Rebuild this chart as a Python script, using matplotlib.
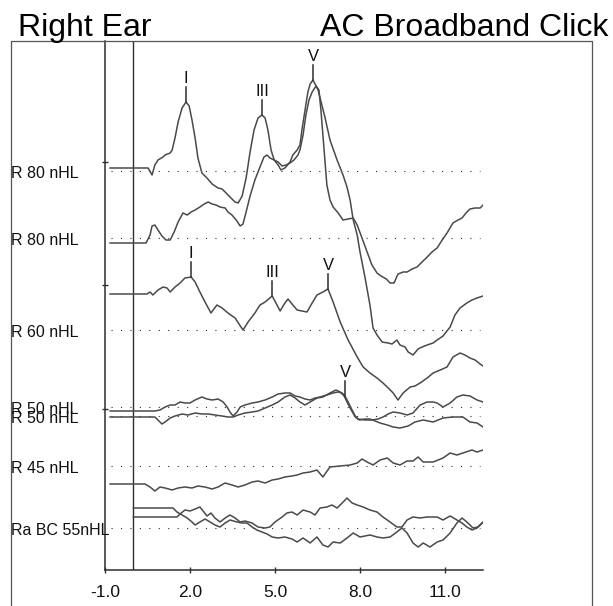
import matplotlib.pyplot as plt
import numpy as np
from matplotlib.lines import Line2D
from matplotlib.transforms import blended_transform_factory

plt.rcParams['font.family'] = ['Liberation Sans', 'DejaVu Sans']

# latency axis (ms)
x_ticks = [-1.0, 2.0, 5.0, 8.0, 11.0]
x_tick_labels = ['-1.0', '2.0', '5.0', '8.0', '11.0']
y_ticks = [408, 285, 161]

# stacking offset of each recording and its label
trace_labels = ['R 80 nHL', 'R 80 nHL', 'R 60 nHL', 'R 50 nHL', 'R 50 nHL', 'R 45 nHL', 'Ra BC 55nHL']
baselines = [399, 332, 240, 163, 154, 104, 42]

# waveforms: time (ms) and amplitude relative to the baseline
r80a_t = [-0.82, 0.52, 0.66, 0.76, 0.87, 1.05, 1.12, 1.30, 1.37, 1.47, 1.58, 1.72, 1.86, 1.97, 2.07,
          2.18, 2.28, 2.42, 2.60, 2.78, 2.99, 3.13, 3.24, 3.41, 3.59, 3.70, 3.84, 3.98, 4.12, 4.26,
          4.40, 4.54, 4.65, 4.75, 4.86, 4.97, 5.11, 5.21, 5.35, 5.53, 5.63, 5.78, 5.88, 5.95, 6.06,
          6.16, 6.24, 6.34, 6.52, 6.76, 6.94, 7.19, 7.40, 7.54, 7.65, 7.76, 7.90, 8.00, 8.18, 8.35,
          8.46, 8.60, 8.78, 8.99, 9.13, 9.30, 9.41, 9.59, 9.70, 9.87, 10.05, 10.19, 10.37, 10.58, 10.72,
          10.93, 11.18, 11.35, 11.53, 11.77, 11.95, 12.13, 12.34]
r80a_amp = [3, 3, -4, 6, 11, 14, 16, 18, 21, 33, 49, 63, 69, 65, 51,
            33, 13, -2, -7, -13, -17, -18, -21, -26, -31, -32, -25, -7, 19, 41,
            53, 56, 53, 41, 21, 11, 6, 1, 3, 9, 16, 21, 26, 41, 61,
            79, 87, 91, 81, 54, 31, 11, -4, -16, -29, -49, -64, -81, -107, -134,
            -157, -164, -171, -172, -173, -169, -174, -176, -181, -184, -178, -176, -174, -172, -169,
            -165, -156, -144, -137, -132, -129, -127, -125]

r80b_t = [-0.82, 0.45, 0.59, 0.66, 0.76, 0.87, 1.01, 1.15, 1.30, 1.44, 1.58, 1.75, 1.90, 2.04, 2.18,
          2.35, 2.50, 2.64, 2.78, 2.92, 3.06, 3.24, 3.34, 3.48, 3.63, 3.77, 3.87, 3.98, 4.12, 4.29,
          4.47, 4.61, 4.72, 4.82, 4.97, 5.11, 5.25, 5.39, 5.53, 5.67, 5.81, 5.88, 5.99, 6.09, 6.20,
          6.31, 6.45, 6.55, 6.62, 6.69, 6.76, 6.83, 6.94, 7.05, 7.23, 7.40, 7.58, 7.76, 7.90, 8.07,
          8.25, 8.42, 8.60, 8.74, 8.93, 9.06, 9.20, 9.34, 9.52, 9.66, 9.84, 10.01, 10.19, 10.37, 10.54,
          10.72, 10.90, 11.07, 11.28, 11.46, 11.60, 11.74, 11.88, 12.06, 12.24, 12.34]
r80b_amp = [-5, -5, 3, 12, 13, 8, 2, -2, -2, 6, 16, 25, 23, 26, 28,
            31, 34, 36, 34, 33, 31, 30, 26, 23, 18, 12, 14, 26, 42, 58,
            71, 81, 83, 80, 78, 76, 72, 73, 75, 78, 83, 88, 103, 123, 138,
            146, 152, 148, 128, 103, 78, 53, 38, 31, 25, 18, 19, 20, 13, 0,
            -14, -27, -35, -38, -41, -45, -45, -36, -34, -34, -31, -29, -24, -19, -14,
            -10, -2, 5, 15, 18, 20, 25, 29, 30, 30, 33]

r60_t = [-0.82, 0.48, 0.59, 0.69, 0.87, 1.05, 1.19, 1.30, 1.47, 1.65, 1.82, 2.04, 2.18, 2.35, 2.53,
         2.74, 2.95, 3.13, 3.34, 3.59, 3.87, 4.05, 4.29, 4.47, 4.65, 4.90, 5.07, 5.18, 5.35, 5.46,
         5.60, 5.78, 5.95, 6.13, 6.31, 6.48, 6.69, 6.87, 7.05, 7.30, 7.58, 7.90, 8.11, 8.35, 8.60,
         8.81, 8.96, 9.17, 9.34, 9.52, 9.77, 9.94, 10.12, 10.37, 10.58, 10.83, 11.07, 11.28, 11.53, 11.70,
         11.88, 12.06, 12.24, 12.34]
r60_amp = [36, 36, 38, 35, 40, 43, 42, 38, 43, 47, 52, 53, 48, 38, 28,
           17, 25, 22, 17, 12, 0, 8, 17, 25, 28, 34, 25, 19, 27, 31,
           26, 20, 19, 18, 27, 35, 38, 41, 28, 8, -10, -27, -37, -43, -48,
           -53, -57, -63, -70, -63, -57, -56, -53, -48, -43, -40, -37, -27, -23, -25,
           -28, -30, -34, -36]

r50a_t = [-0.82, 0.76, 0.94, 1.12, 1.30, 1.47, 1.65, 1.82, 2.00, 2.18, 2.42, 2.60, 2.78, 2.99, 3.17,
          3.31, 3.41, 3.52, 3.66, 3.77, 3.94, 4.19, 4.40, 4.65, 4.90, 5.11, 5.35, 5.53, 5.71, 5.88,
          6.06, 6.24, 6.41, 6.59, 6.83, 7.05, 7.23, 7.37, 7.47, 7.58, 7.72, 7.83, 7.93, 8.18, 8.42,
          8.64, 8.81, 8.99, 9.17, 9.41, 9.66, 9.87, 10.12, 10.37, 10.58, 10.72, 10.93, 11.18, 11.42, 11.63,
          11.88, 12.13, 12.34]
r50a_amp = [-4, -4, -3, 0, 2, 2, 5, 4, 4, 7, 10, 8, 7, 8, 5,
            0, -5, -9, -5, 0, 2, 4, 5, 7, 10, 13, 14, 14, 11, 10,
            8, 7, 9, 10, 12, 14, 15, 14, 11, 5, -3, -9, -12, -13, -13,
            -12, -10, -7, -5, -6, -8, -6, 2, 5, 5, 4, 0, 4, 10, 12,
            11, 7, 5]

r50b_t = [-0.82, 0.76, 0.87, 1.01, 1.12, 1.30, 1.47, 1.72, 1.93, 2.18, 2.42, 2.64, 2.88, 3.13, 3.34,
          3.52, 3.70, 3.94, 4.19, 4.40, 4.65, 4.90, 5.11, 5.35, 5.53, 5.71, 5.88, 6.06, 6.24, 6.48,
          6.69, 6.94, 7.15, 7.30, 7.44, 7.54, 7.69, 7.83, 7.97, 8.18, 8.35, 8.53, 8.71, 8.96, 9.17,
          9.41, 9.70, 9.94, 10.23, 10.58, 10.93, 11.28, 11.63, 11.88, 12.13, 12.34]
r50b_amp = [-1, -1, -4, -8, -6, -2, 0, 2, 1, 3, 2, 2, 1, 0, -1,
            -1, 1, 3, 4, 5, 8, 11, 14, 19, 21, 18, 14, 11, 14, 18,
            19, 23, 26, 24, 20, 14, 6, -1, -4, -3, -3, -5, -7, -9, -11,
            -12, -10, -6, -4, -6, -2, -1, -1, -6, -7, -11]

r45_t = [-0.82, 0.41, 0.59, 0.76, 0.94, 1.12, 1.37, 1.58, 1.82, 2.07, 2.28, 2.53, 2.78, 2.99, 3.24,
         3.48, 3.70, 3.94, 4.19, 4.40, 4.65, 4.90, 5.11, 5.35, 5.60, 5.78, 5.99, 6.24, 6.48, 6.69,
         6.94, 7.30, 7.65, 7.90, 8.07, 8.25, 8.46, 8.71, 8.96, 9.17, 9.41, 9.66, 9.87, 10.05, 10.23,
         10.58, 10.93, 11.18, 11.42, 11.63, 11.95, 12.13, 12.34]
r45_amp = [-18, -18, -21, -25, -21, -22, -24, -22, -21, -22, -20, -21, -23, -21, -17,
           -19, -21, -19, -16, -15, -17, -14, -13, -11, -10, -9, -7, -6, -4, -11,
           -1, 0, 1, 3, 7, 4, 1, 6, 8, 3, 1, 5, 5, 9, 4,
           4, 8, 13, 11, 13, 16, 14, 16]

bc_a_t = [0.00, 1.40, 1.54, 1.72, 1.90, 2.07, 2.18, 2.35, 2.53, 2.71, 2.88, 3.06, 3.24, 3.41, 3.66,
          3.84, 4.01, 4.19, 4.36, 4.54, 4.72, 4.90, 5.11, 5.35, 5.60, 5.78, 5.99, 6.24, 6.48, 6.69,
          6.87, 7.05, 7.30, 7.54, 7.76, 8.00, 8.35, 8.60, 8.81, 9.06, 9.30, 9.48, 9.66, 9.87, 10.05,
          10.23, 10.47, 10.72, 10.93, 11.18, 11.42, 11.60, 11.77, 11.99, 12.16, 12.34]
bc_a_amp = [20, 20, 16, 13, 10, 6, 3, 6, 9, 6, 3, 1, 5, 8, 6,
            5, 5, 1, -2, -4, -6, -9, -10, -9, -11, -14, -10, -15, -9, -17,
            -19, -14, -15, -10, -5, -9, -7, -9, -10, -9, -4, 0, -5, -15, -19,
            -15, -19, -14, -12, -5, 5, 10, 6, 0, 1, 6]

bc_b_t = [0.00, 1.54, 1.65, 1.82, 2.00, 2.18, 2.35, 2.46, 2.60, 2.74, 2.88, 3.06, 3.24, 3.41, 3.59,
          3.77, 3.94, 4.19, 4.40, 4.65, 4.82, 5.00, 5.25, 5.42, 5.60, 5.78, 5.99, 6.24, 6.41, 6.59,
          6.83, 7.01, 7.19, 7.37, 7.54, 7.72, 7.90, 8.11, 8.35, 8.60, 8.81, 9.06, 9.30, 9.48, 9.66,
          9.87, 10.12, 10.37, 10.72, 10.93, 11.18, 11.42, 11.60, 11.77, 11.95, 12.13, 12.31]
bc_b_amp = [11, 11, 14, 18, 17, 19, 21, 17, 12, 15, 10, 6, 10, 13, 10,
            6, 7, 5, 1, 0, 1, 6, 11, 15, 16, 13, 18, 16, 13, 20,
            21, 23, 20, 25, 30, 25, 23, 21, 18, 16, 11, 6, 1, 1, 8,
            11, 10, 11, 11, 8, 12, 8, 5, 1, -2, 0, 5]

# name -> (times, amplitudes, index into baselines)
traces = {
    'r80a': (r80a_t, r80a_amp, 0),
    'r80b': (r80b_t, r80b_amp, 1),
    'r60': (r60_t, r60_amp, 2),
    'r50a': (r50a_t, r50a_amp, 3),
    'r50b': (r50b_t, r50b_amp, 4),
    'r45': (r45_t, r45_amp, 5),
    'bc_a': (bc_a_t, bc_a_amp, 6),
    'bc_b': (bc_b_t, bc_b_amp, 6),
}

# wave markers: trace, label, latency (ms)
peak_marks = [
    ('r80a', 'I', 1.86), ('r80a', 'III', 4.54), ('r80a', 'V', 6.34),
    ('r60', 'I', 2.04), ('r60', 'III', 4.90), ('r60', 'V', 6.87),
    ('r50a', 'V', 7.47),
]

W, H = 613, 606
ink = '#2e2e2e'
wave = '#4a4a4a'

fig = plt.figure(figsize=(W / 100, H / 100), dpi=100)
ax = fig.add_axes([105 / W, 1 - 570 / H, (483 - 105) / W, (570 - 41) / H])
ax.set_xlim(-1.0, 12.34)
ax.set_ylim(0, 529)

for side in ('top', 'right'):
    ax.spines[side].set_visible(False)
for side in ('left', 'bottom'):
    ax.spines[side].set_color(ink)
    ax.spines[side].set_linewidth(1.1)

ax.set_xticks(x_ticks, x_tick_labels)
ax.set_yticks(y_ticks, [])
ax.tick_params(axis='x', direction='inout', length=5, width=1, pad=8,
               labelsize=12.5, color=ink, labelcolor='#111111')
ax.tick_params(axis='y', direction='inout', length=4.5, width=1, color=ink)

# stimulus onset
ax.axvline(0, color=ink, lw=1.0)

# dotted reference lines
for b in sorted(set(baselines)):
    ax.plot([-0.8, 12.25], [b, b], color=ink, lw=0.8, ls=(0, (1, 7.5)))

for tt, aa, idx in traces.values():
    ax.plot(tt, baselines[idx] + np.asarray(aa), color=wave, lw=1.1)

for key, label, t in peak_marks:
    tt, aa, idx = traces[key]
    y = baselines[idx] + np.interp(t, tt, aa)
    ax.plot([t, t], [y, y + 15], color=ink, lw=1.1)
    ax.annotate(label, (t, y + 15), xytext=(0, 0.5), textcoords='offset points',
                ha='center', va='bottom', fontsize=12, color='#111111')

# recording labels along the left edge
lab_tr = blended_transform_factory(fig.transFigure, ax.transData)
for label, b in zip(trace_labels, baselines):
    ax.text(11 / W, b - 7, label, transform=lab_tr, ha='left', va='baseline',
            fontsize=11.5, color='#111111', clip_on=False)

fig.text(18 / W, 1 - 36 / H, 'Right Ear', ha='left', va='baseline', fontsize=23)
fig.text(608 / W, 1 - 36 / H, 'AC Broadband Click', ha='right', va='baseline', fontsize=23)

# outer panel frame
fig.add_artist(Line2D([10.5 / W, 10.5 / W, 592 / W, 592 / W], [0, 1 - 41 / H, 1 - 41 / H, 0],
                      transform=fig.transFigure, color='#555555', lw=0.9))

fig.savefig('out.png', dpi=100)
